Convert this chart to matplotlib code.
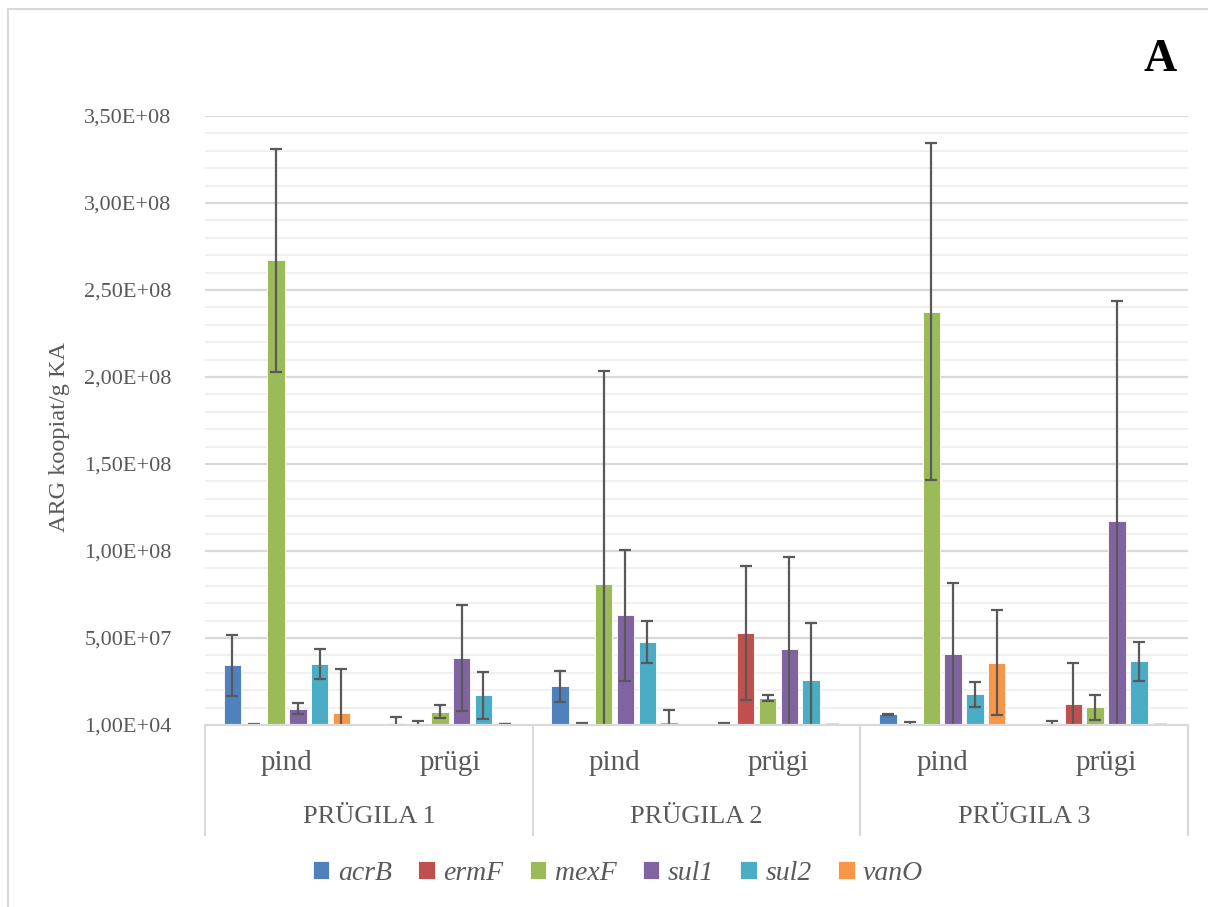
import matplotlib
matplotlib.use("Agg")
import matplotlib.pyplot as plt
import matplotlib.transforms as mtransforms
from matplotlib.patches import Rectangle
import numpy as np

# categories: (group, sample) in drawing order
groups = ['PRÜGILA 1', 'PRÜGILA 2', 'PRÜGILA 3']
samples = ['pind', 'prügi']
genes = ['acrB', 'ermF', 'mexF', 'sul1', 'sul2', 'vanO']

# values per gene: P1 pind, P1 prügi, P2 pind, P2 prügi, P3 pind, P3 prügi
acrB = [3.43e7, 9e5, 2.23e7, 7e5, 6.1e6, 9e5]
acrB_err = [1.75e7, 3.5e6, 9e6, 3e5, 2e5, 1.2e6]
ermF = [4e5, 2e5, 7e5, 5.28e7, 7e5, 1.22e7]
ermF_err = [2e5, 2.3e6, 2e5, 3.84e7, 1e6, 2.35e7]
mexF = [2.67e8, 7.7e6, 8.12e7, 1.55e7, 2.376e8, 1.01e7]
mexF_err = [6.4e7, 3.7e6, 1.22e8, 1.9e6, 9.7e7, 7.2e6]
sul1 = [9.4e6, 3.85e7, 6.31e7, 4.39e7, 4.08e7, 1.174e8]
sul1_err = [3e6, 3.05e7, 3.77e7, 5.26e7, 4.1e7, 1.26e8]
sul2 = [3.52e7, 1.71e7, 4.77e7, 2.61e7, 1.76e7, 3.66e7]
sul2_err = [8.5e6, 1.36e7, 1.2e7, 3.28e7, 7e6, 1.13e7]
vanO = [7e6, 5e5, 1.6e6, 1e4, 3.59e7, 1e4]
vanO_err = [2.54e7, 2e5, 7.3e6, 0, 3.02e7, 0]

yticks = [0, 5e7, 1e8, 1.5e8, 2e8, 2.5e8, 3e8, 3.5e8]
ytick_labels = ['1,00E+04', '5,00E+07', '1,00E+08', '1,50E+08',
                '2,00E+08', '2,50E+08', '3,00E+08', '3,50E+08']

values = [acrB, ermF, mexF, sul1, sul2, vanO]
errors = [acrB_err, ermF_err, mexF_err, sul1_err, sul2_err, vanO_err]
colors = ['#4F81BD', '#C0504D', '#9BBB59', '#8064A2', '#4BACC6', '#F79646']

txt = '#595959'
plt.rcParams['font.family'] = ['Liberation Serif', 'DejaVu Serif']

fig = plt.figure(figsize=(12.08, 9.07), dpi=100)
ax = fig.add_axes([205/1208, 1-725/907, 983/1208, 609/907])

# outer chart border
fig.patches.append(Rectangle((8/1208, -0.01), 1.1, 1 - 9/907 + 0.01, transform=fig.transFigure,
                             fill=False, edgecolor='#d9d9d9', linewidth=1.5))

x = np.arange(len(groups) * len(samples))
slot = 0.133
width = 0.107
for i, g in enumerate(genes):
    pos = x + (i - 2.5) * slot
    ax.bar(pos, values[i], width=width, color=colors[i], edgecolor='white',
           linewidth=0.6, label=g, zorder=3)
    ax.errorbar(pos, values[i], yerr=errors[i], fmt='none', ecolor='#595959',
                elinewidth=1.6, capsize=4.3, capthick=1.6, zorder=4)

ax.set_xlim(-0.5, 5.5)
ax.set_ylim(0, 3.5e8)

# gridlines
for v in np.arange(1e7, 3.5e8 + 1, 1e7):
    major = abs(v / 5e7 - round(v / 5e7)) < 1e-6
    ax.axhline(v, color='#d9d9d9' if major else '#f0f0f0',
               linewidth=1.6 if major else 1.4, zorder=1)
ax.axhline(0, color='#d9d9d9', linewidth=1.6, zorder=5, clip_on=False)

ax.set_yticks(yticks)
ax.set_yticklabels(ytick_labels)
ax.tick_params(axis='y', length=0, pad=24, labelsize=16, labelcolor=txt)
ax.set_xticks([])
for s in ax.spines.values():
    s.set_visible(False)

# multi-level category axis
trans = mtransforms.blended_transform_factory(ax.transData, ax.transAxes)
for gi, grp in enumerate(groups):
    for si, smp in enumerate(samples):
        ax.text(gi * 2 + si, -0.0624, smp, transform=trans, ha='center',
                va='center', fontsize=21, color=txt)
    ax.text(gi * 2 + 0.5, -0.151, grp, transform=trans, ha='center',
            va='center', fontsize=19, color=txt)
for b in [-0.5, 1.5, 3.5, 5.5]:
    ax.plot([b, b], [0, -0.1806], transform=trans, color='#d9d9d9',
            linewidth=1.5, clip_on=False)

fig.text(60/1208, 1-437/907, 'ARG koopiat/g KA', rotation=90, ha='center',
         va='center', fontsize=17.5, color=txt)
fig.text(1160/1208, 1-60/907, 'A', ha='center', va='center', fontsize=33,
         fontweight='bold', color='black')

leg = fig.legend(loc='center', bbox_to_anchor=(618/1208, 1-873/907), ncol=6,
                 frameon=False, prop={'style': 'italic', 'size': 20},
                 handlelength=0.6, handleheight=0.6, handletextpad=0.3,
                 columnspacing=0.95)
for t in leg.get_texts():
    t.set_color(txt)

fig.savefig('out.png', dpi=100)
